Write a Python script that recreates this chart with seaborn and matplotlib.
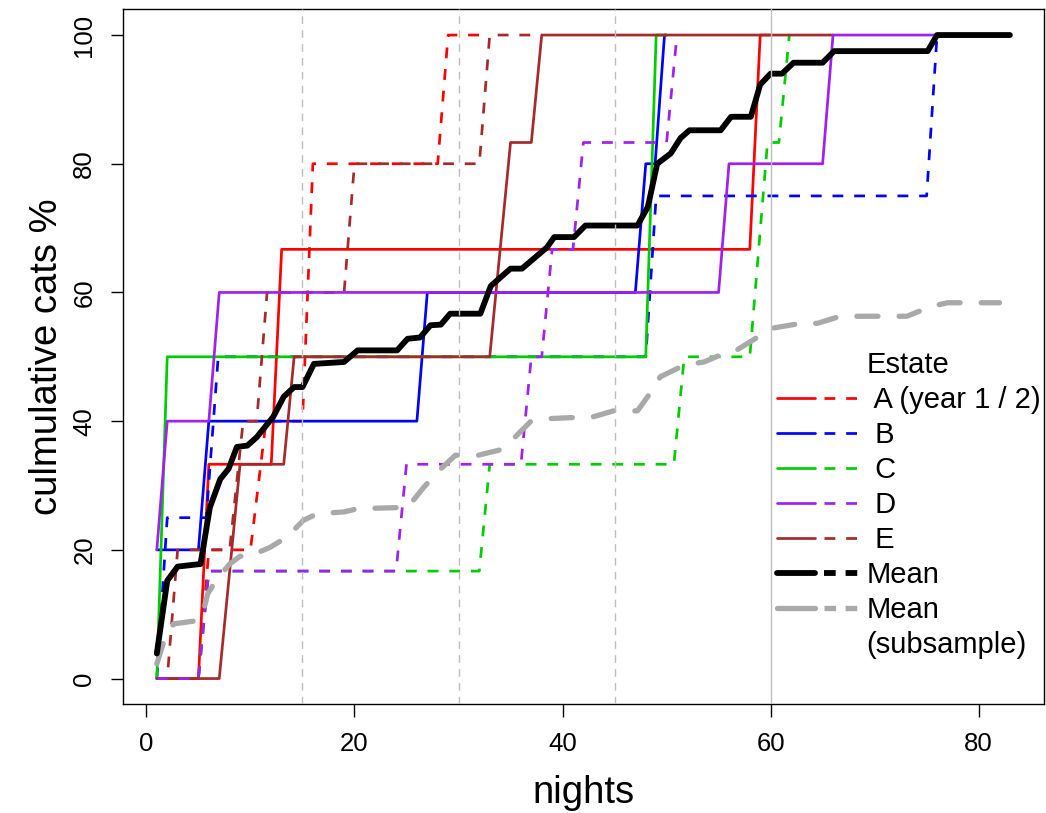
import pandas as pd
import matplotlib
matplotlib.use("Agg")
import matplotlib.pyplot as plt
from matplotlib.lines import Line2D
from matplotlib.legend_handler import HandlerTuple
import seaborn as sns

# cumulative % of cats detected per night, year 1 (solid) and year 2 (dashed)
a1_x = [1, 5, 6, 12, 13, 58, 59, 60]
a1_y = [0, 0, 33.3, 33.3, 66.7, 66.7, 100, 100]
a2_x = [1, 5, 6, 10, 11.5, 15, 16, 28, 29, 33]
a2_y = [0, 0, 20, 20, 40, 40, 80, 80, 100, 100]
b1_x = [1, 5, 6, 26, 27, 47, 48, 48.9, 49.8, 50]
b1_y = [20, 20, 40, 40, 60, 60, 80, 80, 100, 100]
b2_x = [1, 2, 5.75, 6.9, 48, 49, 75, 76]
b2_y = [0, 25, 25, 50, 50, 75, 75, 100]
c1_x = [1, 2, 48, 49, 50]
c1_y = [0, 50, 50, 100, 100]
c2_x = [1, 5, 6, 32, 33, 50.7, 51.7, 58, 59.7, 60.8, 61.8]
c2_y = [0, 0, 16.7, 16.7, 33.3, 33.3, 50, 50, 83.3, 83.3, 100]
d1_x = [1, 2, 6, 7, 55, 56, 65, 66, 77]
d1_y = [20, 40, 40, 60, 60, 80, 80, 100, 100]
d2_x = [1, 5, 6, 24, 25, 36, 37, 38, 39, 41, 42, 50, 51]
d2_y = [0, 0, 16.7, 16.7, 33.3, 33.3, 50, 50, 66.7, 66.7, 83.3, 83.3, 100]
e1_x = [1, 7, 9, 13.2, 14.2, 33, 35, 37, 38, 66]
e1_y = [0, 0, 33.3, 33.3, 50, 50, 83.3, 83.3, 100, 100]
e2_x = [1, 2, 3, 8, 9.3, 10.6, 11.6, 19, 20, 32, 33, 38]
e2_y = [0, 0, 20, 20, 40, 40, 60, 60, 80, 80, 100, 100]

mean_x = [1, 2, 3, 5.2, 6.1, 7.1, 7.9, 8.7, 9.7, 10.6, 12.2, 13.2, 14.2, 15.0,
          16.1, 19.0, 20.3, 24.1, 25.1, 26.3, 27.3, 28.3, 29.2, 32.1, 33.1, 35.0,
          36.1, 38.5, 39.2, 41.1, 42.2, 47.2, 48.2, 49.1, 50.4, 51.35, 52.2, 55.2,
          56.2, 58.1, 59.0, 60.0, 61.1, 62.2, 65.0, 66.1, 75.1, 76.0, 83]
mean_y = [3.9, 15.2, 17.4, 17.8, 26.6, 31.0, 32.6, 36.0, 36.2, 37.5, 40.7, 43.8,
          45.3, 45.3, 48.9, 49.2, 51.0, 51.0, 52.8, 53.0, 54.9, 55.0, 56.7, 56.7,
          61.0, 63.7, 63.7, 67.0, 68.6, 68.6, 70.4, 70.4, 73.3, 80.0, 81.6, 84.0,
          85.2, 85.2, 87.3, 87.3, 92.3, 94.0, 94.0, 95.7, 95.7, 97.5, 97.5, 100, 100]

sub_x = [1, 1.7, 2.6, 4.9, 5.4, 5.9, 6.8, 8.0, 9.0, 9.9, 11.9, 13.5, 15.1, 16.4,
         19, 20.3, 25.1, 26.7, 28.3, 29.7, 31.9, 33.9, 35.3, 36.9, 38.8, 43, 44.9,
         47.2, 48.4, 49.4, 51.7, 53.6, 55.5, 56.5, 58.7, 60, 62.9, 64.5, 66.7, 73.1,
         75.4, 77, 82]
sub_y = [2.3, 5.9, 8.5, 9.0, 10.0, 13.2, 15.5, 17.8, 19.0, 19.0, 20.4, 22.0, 24.6,
         25.6, 25.9, 26.4, 26.6, 29.8, 32.6, 34.7, 34.7, 35.5, 37.3, 39.9, 40.4, 40.7,
         41.6, 41.6, 44.3, 46.9, 48.7, 49.2, 50.5, 50.8, 53.0, 54.4, 55.2, 55.2, 56.3,
         56.3, 57.8, 58.4, 58.4]

estates = ["A", "B", "C", "D", "E"]
legend_labels = [" A (year 1 / 2)", " B", " C", " D", " E"]
cores = {"A": "#FF0000", "B": "#0000FF", "C": "#00CD00", "D": "#A020F0", "E": "#A52A2A"}
grid_dashed = [15, 30, 45]
grid_solid = [60]

series = {
    ("A", 1): (a1_x, a1_y), ("A", 2): (a2_x, a2_y),
    ("B", 1): (b1_x, b1_y), ("B", 2): (b2_x, b2_y),
    ("C", 1): (c1_x, c1_y), ("C", 2): (c2_x, c2_y),
    ("D", 1): (d1_x, d1_y), ("D", 2): (d2_x, d2_y),
    ("E", 1): (e1_x, e1_y), ("E", 2): (e2_x, e2_y),
}
linhas = []
for (est, ano), (xs, ys) in series.items():
    linhas.append(pd.DataFrame({"nights": xs, "pct": ys, "estate": est, "year": ano}))
df = pd.concat(linhas, ignore_index=True)
df_mean = pd.DataFrame({"nights": mean_x, "pct": mean_y})
df_sub = pd.DataFrame({"nights": sub_x, "pct": sub_y})

sns.set_theme(style="white")
plt.rcParams["font.family"] = ["Liberation Sans", "DejaVu Sans"]
plt.rcParams["text.color"] = "black"
plt.rcParams["axes.labelcolor"] = "black"
plt.rcParams["xtick.color"] = "black"
plt.rcParams["ytick.color"] = "black"

fig = plt.figure(figsize=(10.46, 8.13), dpi=100)
ax = fig.add_axes([122.7 / 1046, 1 - 704.3 / 813, (1044 - 122.7) / 1046, (704.3 - 9.3) / 813])

LW = 1.95
# drawing order as in the original (D ends up on top of E)
for est in ["A", "B", "C", "E", "D"]:
    for ano in [1, 2]:
        sub = df[(df["estate"] == est) & (df["year"] == ano)]
        sns.lineplot(data=sub, x="nights", y="pct", ax=ax, color=cores[est],
                     lw=LW, linestyle="-" if ano == 1 else (0, (4, 4)),
                     estimator=None, sort=False, legend=False)

sns.lineplot(data=df_sub, x="nights", y="pct", ax=ax, color="#A9A9A9", lw=3.8,
             linestyle=(0, (4, 4)), dash_capstyle="round", solid_joinstyle="round",
             estimator=None, sort=False, legend=False)
sns.lineplot(data=df_mean, x="nights", y="pct", ax=ax, color="black", lw=4.2,
             solid_capstyle="round", solid_joinstyle="round",
             estimator=None, sort=False, legend=False)

for v in grid_dashed:
    ax.axvline(v, color="#BEBEBE", lw=1.0, linestyle=(0, (5.5, 4.5)), zorder=5)
for v in grid_solid:
    ax.axvline(v, color="#BEBEBE", lw=1.0, zorder=5)

ax.set_xlim(-2.28, 86.28)
ax.set_ylim(-4, 104)
ax.set_xticks([0, 20, 40, 60, 80])
ax.set_yticks([0, 20, 40, 60, 80, 100])
for s in ax.spines.values():
    s.set_visible(True)
    s.set_color("black")
    s.set_linewidth(1.0)
ax.tick_params(axis="both", which="major", direction="out", length=9, width=1.0,
               labelsize=18.5, colors="black", bottom=True, left=True)
ax.tick_params(axis="x", pad=11)
ax.tick_params(axis="y", pad=10)
for lab in ax.get_yticklabels():
    lab.set_rotation(90)
    lab.set_va("center")

ax.set_xlabel("nights", fontsize=27.5, va="baseline", color="black")
ax.xaxis.set_label_coords(0.5, -(803 - 704.3) / 695)
ax.set_ylabel("culmulative cats %", fontsize=27.5, va="baseline", color="black")
ax.yaxis.set_label_coords(-(122.7 - 57) / 921.3, 0.5)

# legend: solid + dashed sample per estate
handles = []
for est in estates:
    handles.append((Line2D([], [], color=cores[est], lw=LW),
                    Line2D([], [], color=cores[est], lw=LW, linestyle=(0, (4, 4)))))
handles.append((Line2D([], [], color="black", lw=4.2),
                Line2D([], [], color="black", lw=4.2, linestyle=(0, (2, 1.7)))))
handles.append((Line2D([], [], color="#A9A9A9", lw=3.8),
                Line2D([], [], color="#A9A9A9", lw=3.8, linestyle=(0, (2.2, 1.8)))))
handles.append(Line2D([], [], linestyle="none"))
labels = legend_labels + ["Mean", "Mean", "(subsample)"]

leg = fig.legend(handles, labels, loc="upper left",
                 bbox_to_anchor=(776.7 / 1046, 1 - 351 / 813),
                 handler_map={tuple: HandlerTuple(ndivide=None, pad=0.3)},
                 frameon=False, fontsize=21, title="Estate", title_fontsize=21,
                 handlelength=2.92, handletextpad=0.16, labelspacing=0.24,
                 borderpad=0, borderaxespad=0)

fig.savefig("out.png", dpi=100)
